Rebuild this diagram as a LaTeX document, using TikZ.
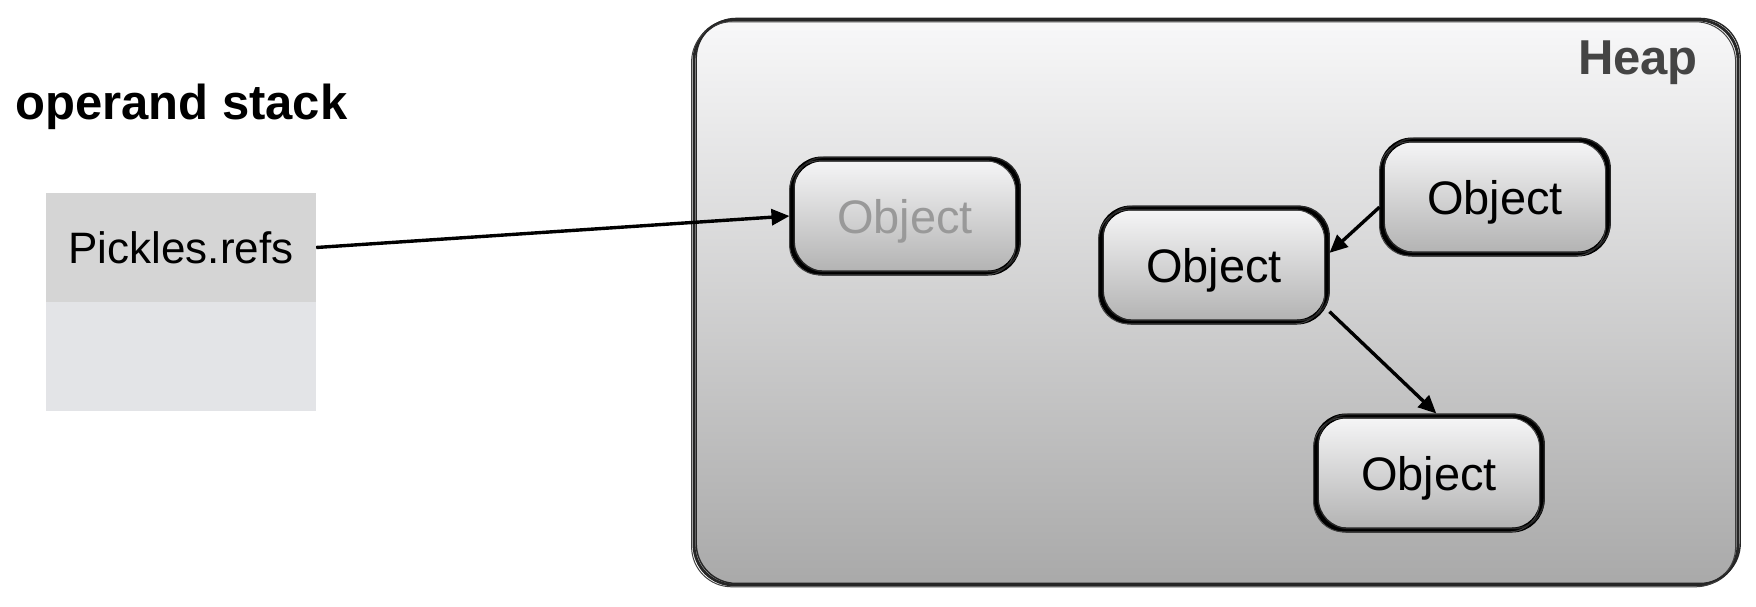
\documentclass[tikz,border=0pt]{standalone}
\usepackage{fontspec}
\setmainfont{Liberation Sans}
\usetikzlibrary{arrows.meta}
\definecolor{cellA}{HTML}{D5D5D5}
\definecolor{cellB}{HTML}{E3E4E7}
\definecolor{heapTop}{HTML}{F8F8F9}
\definecolor{heapBot}{HTML}{A9A9A9}
\definecolor{objTop}{HTML}{F6F6F7}
\definecolor{objBot}{HTML}{B2B2B2}
\definecolor{heapText}{HTML}{444444}
\definecolor{fadeText}{HTML}{999999}
\tikzset{
  sketchy/.style={
    postaction={draw=black!75, line width=1pt, transform canvas={shift={(-2.4pt,-1.8pt)}}},
    postaction={draw=black!85, line width=1.4pt, transform canvas={shift={(2.2pt,1.6pt)}}}},
  heapbox/.style={draw=black!85, line width=2.8pt, rounded corners=40pt,
      top color=heapTop, bottom color=heapBot, minimum width=1044pt,
      minimum height=565pt, inner sep=0pt, sketchy},
  objbox/.style={draw=black, line width=5pt, rounded corners=30pt,
      top color=objTop, bottom color=objBot, minimum width=226pt,
      minimum height=114pt, inner sep=0pt, text depth=0pt, sketchy,
      font=\fontsize{47}{56}\selectfont},
  cell/.style={minimum width=270pt, minimum height=109pt, inner sep=0pt,
      font=\fontsize{44}{52}\selectfont},
  conn/.style={line width=3.4pt, -{Triangle[length=18pt,width=16pt]}},
  title/.style={font=\fontsize{49}{58}\selectfont\bfseries, inner sep=0pt}
}
\begin{document}
\begin{tikzpicture}[x=1pt,y=-1pt]
\useasboundingbox (0,0) rectangle (1756,606);
\node[title, anchor=west] (opstack) at (15,107) {operand stack};
\node[cell, fill=cellA] (refs) at (181,247.5) {\raisebox{-2pt}{Pickles.refs}};
\node[cell, fill=cellB] (empty) at (181,356.5) {};
\node[heapbox] (heap) at (1216,302.5) {};
\node[title, text=heapText, anchor=north east] (heaplbl) at (1698,41) {Heap};
\node[objbox, text=fadeText] (obj1) at (905,216) {Object};
\node[objbox] (obj2) at (1214,265) {Object};
\node[objbox] (obj3) at (1495,197) {Object};
\node[objbox] (obj4) at (1429,473) {Object};
\draw[conn] (refs.east) -- (obj1.west);
\draw[conn] (obj3.185) -- (obj2.6);
\draw[conn] (obj2.-22) -- (obj4.83);
\end{tikzpicture}
\end{document}
